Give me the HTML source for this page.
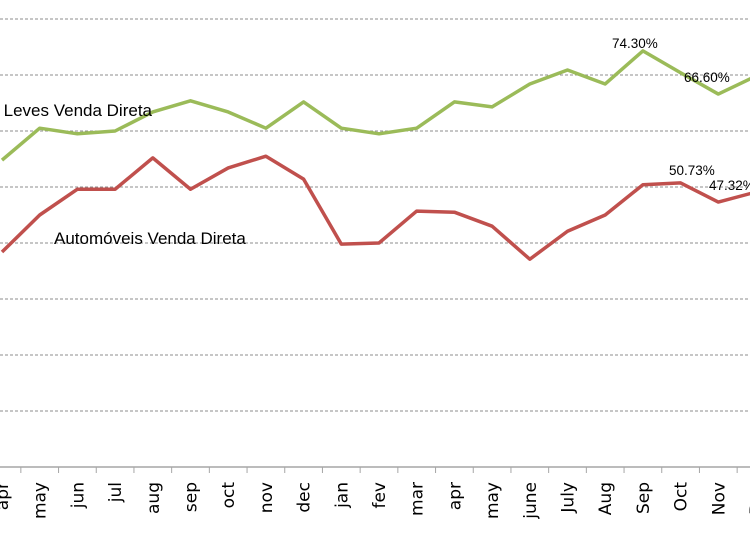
<!DOCTYPE html>
<html><head><meta charset="utf-8"><style>
html,body{margin:0;padding:0;background:#fff;width:750px;height:536px;overflow:hidden}
svg{display:block;font-family:"Liberation Sans",sans-serif}
</style></head><body>
<svg id="chart" width="750" height="536"></svg>
<script>
const categories=["apr","may","jun","jul","aug","sep","oct","nov","dec","jan","fev","mar","apr","may","june","July","Aug","Sep","Oct","Nov","Dec"];
const leves=[54.8,60.5,59.5,60.0,63.4,65.4,63.4,60.5,65.2,60.5,59.5,60.5,65.2,64.3,68.4,70.9,68.4,74.3,70.4,66.6,69.8];
const autos=[38.4,45.0,49.6,49.6,55.2,49.6,53.4,55.5,51.4,39.8,40.0,45.7,45.5,43.0,37.1,42.1,45.0,50.4,50.73,47.32,49.1];
const gridTicks=[10,20,30,40,50,60,70,80];
const NS="http://www.w3.org/2000/svg";
const svg=document.getElementById('chart');
const x=i=>2+37.7*i;
const y=v=>467-5.6*v;
function mk(t,a){const e=document.createElementNS(NS,t);for(const k in a)e.setAttribute(k,a[k]);svg.appendChild(e);return e;}
gridTicks.forEach(t=>{
 const l=mk('line',{x1:0,x2:750,y1:y(t),y2:y(t),stroke:'#8c8c8c','stroke-width':1,'stroke-dasharray':'3,2'});
 
 
});
const ax=mk('line',{x1:0,x2:750,y1:467,y2:467,stroke:'#a6a6a6','stroke-width':1.5});


categories.forEach((c,i)=>{
 const tx=x(i)+18.85;
 const tk=mk('line',{x1:tx,x2:tx,y1:467,y2:473,stroke:'#a6a6a6','stroke-width':1});
 
 
 const t=mk('text',{x:0,y:0,'font-size':17,'font-family':'DejaVu Sans, sans-serif',fill:'#000','text-anchor':'end',transform:`translate(${x(i)+6},482) rotate(-90)`});
 t.textContent=c;
 
 
});
function series(vals,color,name){
 const p=mk('polyline',{points:vals.map((v,i)=>x(i)+','+y(v)).join(' '),fill:'none',stroke:color,'stroke-width':3.5,'stroke-linejoin':'round'});
 
 
}
series(leves,'#9bbb59','series-comerciais-leves');
series(autos,'#c0504d','series-automoveis');
function lbl(txt,xx,yy,fs,name,anchor){const t=mk('text',{x:xx,y:yy,'font-size':fs,fill:'#000','text-anchor':anchor||'start'});t.textContent=txt;
 
 return t;}
lbl('Com. Leves Venda Direta',152,116,17,'series-label-leves','end');
lbl('Automóveis Venda Direta',54,244,17,'series-label-automoveis');
lbl('74.30%',612,48,13.5,'data-label-sep-leves');
lbl('66.60%',684,82,13.5,'data-label-oct-leves');
lbl('50.73%',669,175,13.5,'data-label-oct-autos');
lbl('47.32%',709,190,13.5,'data-label-nov-autos');
</script>
</body></html>
